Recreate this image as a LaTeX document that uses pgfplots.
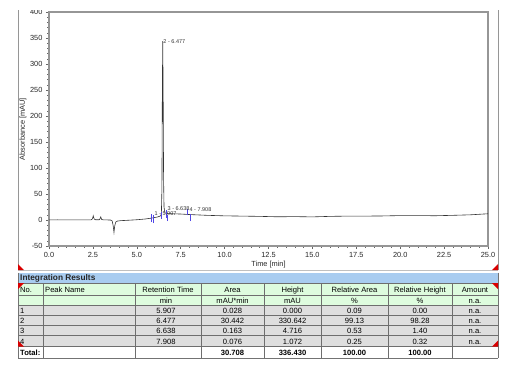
\documentclass[border=0pt]{standalone}
\usepackage{pgfplots}
\pgfplotsset{compat=1.18}
\usepackage{fontspec}
\setmainfont{Liberation Sans}
\definecolor{hdrblue}{RGB}{168,204,240}
\definecolor{hdrgreen}{RGB}{222,252,222}
\definecolor{rowgray}{RGB}{222,222,222}
\definecolor{gridc}{RGB}{110,110,110}
\definecolor{markblue}{RGB}{80,70,230}
\definecolor{axgray}{RGB}{150,150,150}
\newcommand\tf{\fontsize{7.6}{8}\selectfont}
\newcommand\tfb{\fontsize{7.6}{8}\selectfont\bfseries}
\begin{document}
\begin{tikzpicture}[x=1pt,y=-1pt]
\useasboundingbox (0,0) rectangle (511,373);
% panel frame lines
\draw[axgray, line width=0.8pt] (18,10) -- (18,270);
\draw[axgray, line width=0.8pt] (498,10) -- (498,270);
\draw[black!25, line width=0.5pt] (18,270.5) -- (498,270.5);
\begin{axis}[at={(49pt,-246pt)}, anchor=south west,
  width=439pt, height=234pt, scale only axis,
  xmin=0, xmax=25, ymin=-50, ymax=400,
  xtick={0,2.5,...,25}, minor x tick num=4,
  ytick={-50,0,50,...,400}, minor y tick num=4,
  xtick pos=bottom, ytick pos=left,
  tick align=outside, major tick length=3pt, minor tick length=1.8pt,
  axis line style={axgray, line width=1.3pt},
  tick style={black!60, line width=0.5pt},
  /pgf/number format/assume math mode=true,
  xticklabel style={font=\fontsize{7.4}{8}\selectfont, text=black!85,
    /pgf/number format/.cd, fixed, fixed zerofill, precision=1},
  yticklabel style={font=\fontsize{7.4}{8}\selectfont, text=black!85},
  clip=false]
\addplot[black!80, line width=0.6pt] coordinates {
(0,0.3) (0.5,0.4) (1,0.3) (1.5,0.2) (2,0.2) (2.4,0.4) (2.47,2) (2.52,8) (2.57,2) (2.65,0.5)
(2.85,0.4) (2.9,2) (2.95,6) (3.0,1) (3.1,0.3) (3.5,0) (3.6,-2) (3.66,-12) (3.7,-24) (3.74,-12)
(3.8,-4) (3.9,-2) (4.1,-1.2) (4.5,-0.5) (5.0,0.5) (5.5,2) (5.9,4) (6.2,6) (6.36,8) (6.40,12)
(6.43,60) (6.455,250) (6.477,344) (6.50,250) (6.525,80) (6.55,25) (6.6,14) (6.7,12.5) (7.0,12) (7.5,11.5) (8,10.5)
(9,9) (10,8) (11,7.5) (12,7) (13,6.2) (14,6.5) (15,6) (16,7) (17,7.5) (18,7.5) (19,7.8)
(20,8.5) (21,8.5) (22,8.2) (23,9) (24,10) (25,12)};
\addplot[markblue, line width=0.6pt, unbounded coords=jump] coordinates {
(5.82,-4) (5.82,12) (5.82,nan)
(5.95,-6) (5.95,10) (5.95,nan)
(6.40,2) (6.40,16) (6.40,nan)
(6.68,4) (6.68,20) (6.68,nan)
(6.75,-2) (6.75,10) (6.75,nan)
(7.9,9) (7.9,22) (7.9,nan)
(8.03,-2) (8.03,12)};
\node[font=\fontsize{5.5}{6}\selectfont, text=black!80, anchor=west, inner sep=0.5pt] at (axis cs:6.48,343) {2 - 6.477};
\node[font=\fontsize{5.5}{6}\selectfont, text=black!80, anchor=west, inner sep=0.5pt] at (axis cs:5.98,12) {1 - 5.907};
\node[font=\fontsize{5.5}{6}\selectfont, text=black!80, anchor=west, inner sep=0.5pt] at (axis cs:6.72,21) {3 - 6.638};
\node[font=\fontsize{5.5}{6}\selectfont, text=black!80, anchor=west, inner sep=0.5pt] at (axis cs:7.97,20) {4 - 7.908};
\end{axis}
% cover the top strip as in the screenshot
\fill[white] (0,0) rectangle (511,9.5);
% axis labels
\node[font=\fontsize{7.4}{8}\selectfont, text=black!85, rotate=90] at (23,129) {Absorbance [mAU]};
\node[font=\fontsize{7.4}{8}\selectfont, text=black!85] at (268.5,264.5) {Time [min]};
% red corner triangles on panel
\fill[red!85!black] (18,264) -- (18,270) -- (24,270) -- cycle;
\fill[red!85!black] (498,264) -- (498,270) -- (492,270) -- cycle;
% ===== table =====
\fill[hdrblue] (18,272.5) rectangle (498,283);
\fill[hdrgreen] (18,283) rectangle (498,305);
\fill[rowgray] (18,305) rectangle (498,346.7);
\fill[white] (18,346.7) rectangle (498,358.3);
% horizontal lines
\foreach \yy in {283,295,305,315,325.5,335.7,346.7}
  \draw[gridc, line width=0.5pt] (18,\yy) -- (498,\yy);
\draw[black!55, line width=0.8pt] (18,358.3) -- (498,358.3);
% vertical lines
\foreach \xx in {43,135,201,264,321,388,452}
  \draw[gridc, line width=0.5pt] (\xx,283) -- (\xx,358.3);
\draw[black!55, line width=0.8pt] (18,272.5) -- (18,358.3);
\draw[black!55, line width=0.8pt] (498,272.5) -- (498,358.3);
% title
\node[font=\fontsize{8.3}{9}\selectfont\bfseries, text=black!85, anchor=base west, inner sep=0pt] at (20,280.5) {Integration Results};
% header
\node[font=\tf, anchor=base west, inner sep=0pt] at (20,292.5) {No.};
\node[font=\tf, anchor=base west, inner sep=0pt] at (45,292.5) {Peak Name};
\node[font=\tf, anchor=base, inner sep=0pt] at (168,292.5) {Retention Time};
\node[font=\tf, anchor=base, inner sep=0pt] at (232.5,292.5) {Area};
\node[font=\tf, anchor=base, inner sep=0pt] at (292.5,292.5) {Height};
\node[font=\tf, anchor=base, inner sep=0pt] at (354.5,292.5) {Relative Area};
\node[font=\tf, anchor=base, inner sep=0pt] at (420,292.5) {Relative Height};
\node[font=\tf, anchor=base, inner sep=0pt] at (475,292.5) {Amount};
% units
\node[font=\tf, anchor=base, inner sep=0pt] at (166,303) {min};
\node[font=\tf, anchor=base, inner sep=0pt] at (232.5,303) {mAU*min};
\node[font=\tf, anchor=base, inner sep=0pt] at (292.5,303) {mAU};
\node[font=\tf, anchor=base, inner sep=0pt] at (354.5,303) {\%};
\node[font=\tf, anchor=base, inner sep=0pt] at (420,303) {\%};
\node[font=\tf, anchor=base, inner sep=0pt] at (475,303) {n.a.};
% data rows
\foreach \vN/\vY/\vA/\vB/\vC/\vD/\vE in {
  1/313/5.907/0.028/0.000/0.09/0.00,
  2/323.3/6.477/30.442/330.642/99.13/98.28,
  3/333.5/6.638/0.163/4.716/0.53/1.40,
  4/344/7.908/0.076/1.072/0.25/0.32}{
  \node[font=\tf, anchor=base west, inner sep=0pt] at (20,\vY) {\vN};
  \node[font=\tf, anchor=base, inner sep=0pt] at (166,\vY) {\vA};
  \node[font=\tf, anchor=base, inner sep=0pt] at (232.5,\vY) {\vB};
  \node[font=\tf, anchor=base, inner sep=0pt] at (292.5,\vY) {\vC};
  \node[font=\tf, anchor=base, inner sep=0pt] at (354.5,\vY) {\vD};
  \node[font=\tf, anchor=base, inner sep=0pt] at (420,\vY) {\vE};
  \node[font=\tf, anchor=base, inner sep=0pt] at (475,\vY) {n.a.};
}
% total row
\node[font=\tfb, anchor=base west, inner sep=0pt] at (20,355.5) {Total:};
\node[font=\tfb, anchor=base, inner sep=0pt] at (232.5,355.5) {30.708};
\node[font=\tfb, anchor=base, inner sep=0pt] at (292.5,355.5) {336.430};
\node[font=\tfb, anchor=base, inner sep=0pt] at (354.5,355.5) {100.00};
\node[font=\tfb, anchor=base, inner sep=0pt] at (420,355.5) {100.00};
% red triangles in table
\fill[red!85!black] (18,283) -- (24,283) -- (18,289) -- cycle;
\fill[red!85!black] (498,283) -- (492,283) -- (498,289) -- cycle;
\fill[red!85!black] (18,346.7) -- (18,340.7) -- (24,346.7) -- cycle;
\fill[red!85!black] (498,346.7) -- (498,340.7) -- (492,346.7) -- cycle;
\end{tikzpicture}
\end{document}
